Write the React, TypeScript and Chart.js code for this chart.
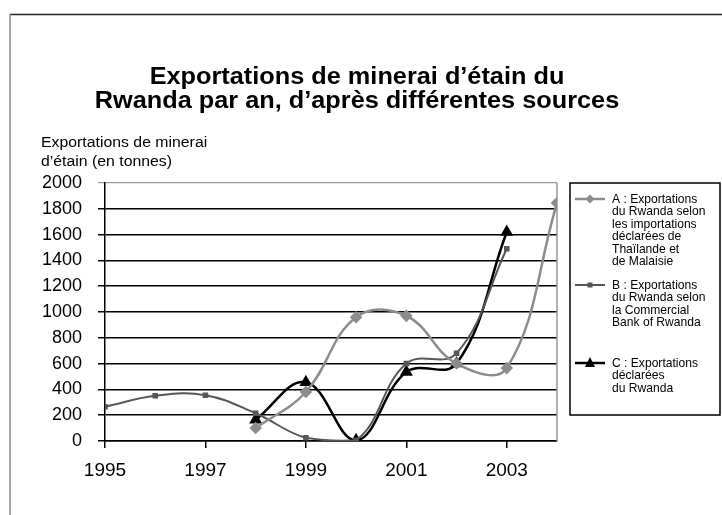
import React, { useEffect, useRef } from "react";
import { Chart, registerables } from "chart.js";

Chart.register(...registerables);

const FONT = "'Liberation Sans', Arial, Helvetica, sans-serif";

const TITLE_LINES = [
  "Exportations de minerai d’étain du",
  "Rwanda par an, d’après différentes sources",
];
const AXIS_TITLE_LINES = ["Exportations de minerai", "d’étain (en tonnes)"];

const X_TICKS = [1995, 1997, 1999, 2001, 2003];
const X_MIN = 1995;
const X_MAX = 2004;
const Y_MIN = 0;
const Y_MAX = 2000;
const Y_STEP = 200;

const YEARS_A = [1998, 1999, 2000, 2001, 2002, 2003, 2004];
const SERIES_A = [100, 380, 960, 970, 600, 565, 1845];

const YEARS_B = [1995, 1996, 1997, 1998, 1999, 2000, 2001, 2002, 2003];
const SERIES_B = [265, 350, 355, 215, 25, 5, 600, 680, 1490];

const YEARS_C = [1998, 1999, 2000, 2001, 2002, 2003];
const SERIES_C = [165, 455, 5, 535, 600, 1620];

const LEGEND_A = [
  "A : Exportations",
  "du Rwanda selon",
  "les importations",
  "déclarées de",
  "Thaïlande et",
  "de Malaisie",
];
const LEGEND_B = [
  "B : Exportations",
  "du Rwanda selon",
  "la Commercial",
  "Bank of Rwanda",
];
const LEGEND_C = ["C : Exportations", "déclarées", "du Rwanda"];

const COLOR_A = "#8c8c8c";
const COLOR_B = "#575757";
const COLOR_C = "#000000";

function toPoints(xs: number[], ys: number[]) {
  return xs.map((x, i) => ({ x, y: ys[i] }));
}

function drawMarker(ctx: CanvasRenderingContext2D, style: string, x: number, y: number, r: number, color: string) {
  ctx.fillStyle = color;
  ctx.beginPath();
  if (style === "rectRot") {
    ctx.moveTo(x, y - r);
    ctx.lineTo(x + r, y);
    ctx.lineTo(x, y + r);
    ctx.lineTo(x - r, y);
  } else if (style === "rect") {
    ctx.rect(x - r, y - r, 2 * r, 2 * r);
  } else {
    ctx.moveTo(x, y - r * 1.2);
    ctx.lineTo(x + r, y + r * 0.8);
    ctx.lineTo(x - r, y + r * 0.8);
  }
  ctx.closePath();
  ctx.fill();
}

function stretchedText(ctx: CanvasRenderingContext2D, t: string, x: number, y: number, sx: number) {
  ctx.save();
  ctx.translate(x, y);
  ctx.scale(sx, 1);
  ctx.fillText(t, 0, 0);
  ctx.restore();
}

const decorPlugin = {
  id: "decor",
  beforeDraw(chart: any) {
    const ctx: CanvasRenderingContext2D = chart.ctx;
    ctx.save();
    ctx.fillStyle = "#ffffff";
    ctx.fillRect(0, 0, chart.width, chart.height);
    // outer frame
    ctx.lineWidth = 1.5;
    ctx.strokeStyle = "#222222";
    ctx.beginPath();
    ctx.moveTo(10, 14.5);
    ctx.lineTo(chart.width, 14.5);
    ctx.stroke();
    ctx.strokeStyle = "#888888";
    ctx.beginPath();
    ctx.moveTo(10, 14);
    ctx.lineTo(10, chart.height);
    ctx.stroke();
    // title
    ctx.fillStyle = "#000";
    ctx.textAlign = "center";
    ctx.textBaseline = "alphabetic";
    ctx.font = `bold 23px ${FONT}`;
    TITLE_LINES.forEach((t, i) => stretchedText(ctx, t, 357, 84 + i * 24, 1.1));
    // axis title
    ctx.textAlign = "left";
    ctx.font = `14px ${FONT}`;
    AXIS_TITLE_LINES.forEach((t, i) => stretchedText(ctx, t, 41, 147 + i * 19, 1.13));
    ctx.restore();
  },
  beforeDatasetsDraw(chart: any) {
    const ctx: CanvasRenderingContext2D = chart.ctx;
    const a = chart.chartArea;
    ctx.save();
    ctx.strokeStyle = "#999999";
    ctx.lineWidth = 1.5;
    ctx.beginPath();
    ctx.moveTo(a.right, a.top);
    ctx.lineTo(a.right, a.bottom);
    ctx.stroke();
    ctx.restore();
  },
  afterDraw(chart: any) {
    const ctx: CanvasRenderingContext2D = chart.ctx;
    ctx.save();
    // legend box
    ctx.strokeStyle = "#000";
    ctx.lineWidth = 1.5;
    ctx.strokeRect(570, 183, 150, 232);
    const items = [
      { lines: LEGEND_A, y: 199, step: 12.5, ds: chart.data.datasets[0] },
      { lines: LEGEND_B, y: 285, step: 12.6, ds: chart.data.datasets[1] },
      { lines: LEGEND_C, y: 363, step: 12.6, ds: chart.data.datasets[2] },
    ];
    ctx.font = `13px ${FONT}`;
    ctx.textAlign = "left";
    ctx.textBaseline = "middle";
    items.forEach((it) => {
      const ds = it.ds;
      ctx.strokeStyle = ds.borderColor;
      ctx.lineWidth = ds.borderWidth;
      ctx.beginPath();
      ctx.moveTo(575, it.y);
      ctx.lineTo(605, it.y);
      ctx.stroke();
      drawMarker(ctx, ds.pointStyle, 590, it.y, ds.pointRadius, ds.pointBackgroundColor);
      ctx.fillStyle = "#000";
      it.lines.forEach((t, i) => stretchedText(ctx, t, 612, it.y + i * it.step, 0.93));
    });
    ctx.restore();
  },
};

export default function App() {
  const ref = useRef<HTMLCanvasElement | null>(null);

  useEffect(() => {
    if (!ref.current) return;
    const chart = new Chart(ref.current, {
      type: "line",
      data: {
        datasets: [
          {
            label: LEGEND_A.join(" "),
            data: toPoints(YEARS_A, SERIES_A),
            borderColor: COLOR_A,
            backgroundColor: COLOR_A,
            pointBackgroundColor: COLOR_A,
            pointBorderColor: COLOR_A,
            pointStyle: "rectRot",
            pointRadius: 4.5,
            borderWidth: 2.5,
            tension: 0.4,
            fill: false,
          },
          {
            label: LEGEND_B.join(" "),
            data: toPoints(YEARS_B, SERIES_B),
            borderColor: COLOR_B,
            backgroundColor: COLOR_B,
            pointBackgroundColor: COLOR_B,
            pointBorderColor: COLOR_B,
            pointStyle: "rect",
            pointRadius: 2.5,
            borderWidth: 2,
            tension: 0.4,
            fill: false,
          },
          {
            label: LEGEND_C.join(" "),
            data: toPoints(YEARS_C, SERIES_C),
            borderColor: COLOR_C,
            backgroundColor: COLOR_C,
            pointBackgroundColor: COLOR_C,
            pointBorderColor: COLOR_C,
            pointStyle: "triangle",
            pointRadius: 5,
            borderWidth: 2.5,
            tension: 0.4,
            fill: false,
          },
        ],
      },
      options: {
        responsive: false,
        animation: false,
        devicePixelRatio: 1,
        layout: { padding: { left: 0, top: 183, right: 165, bottom: 0 } },
        plugins: {
          legend: { display: false },
          title: { display: false },
          tooltip: { enabled: false },
        },
        scales: {
          x: {
            type: "linear",
            min: X_MIN,
            max: X_MAX,
            afterBuildTicks: (scale: any) => {
              scale.ticks = X_TICKS.map((v) => ({ value: v }));
            },
            afterFit: (scale: any) => {
              scale.height = 74;
            },
            grid: {
              drawOnChartArea: false,
              drawTicks: true,
              tickLength: 7,
              color: "#000",
              lineWidth: 1.5,
            },
            border: { display: true, color: "#000", width: 1.5 },
            ticks: {
              autoSkip: false,
              maxRotation: 0,
              padding: 11,
              color: "#000",
              font: { family: FONT, size: 19 },
              callback: (v: any) => String(v),
            },
          },
          y: {
            type: "linear",
            min: Y_MIN,
            max: Y_MAX,
            afterFit: (scale: any) => {
              scale.width = 105;
            },
            grid: {
              drawTicks: true,
              tickLength: 7,
              color: (c: any) => (c.tick && c.tick.value === Y_MAX ? "#999" : "#000"),
              lineWidth: (c: any) => (c.tick && c.tick.value === Y_MAX ? 1.2 : 1.5),
            },
            border: { display: true, color: "#000", width: 1.5 },
            ticks: {
              stepSize: Y_STEP,
              padding: 16,
              color: "#000",
              font: { family: FONT, size: 18 },
              callback: (v: any) => String(v),
            },
          },
        },
      },
      plugins: [decorPlugin],
    } as any);
    return () => chart.destroy();
  }, []);

  return (
    <div style={{ position: "fixed", left: 0, top: 0, width: 722, height: 515, background: "#fff" }}>
      <canvas ref={ref} width={722} height={515} style={{ display: "block", width: 722, height: 515 }} />
    </div>
  );
}
